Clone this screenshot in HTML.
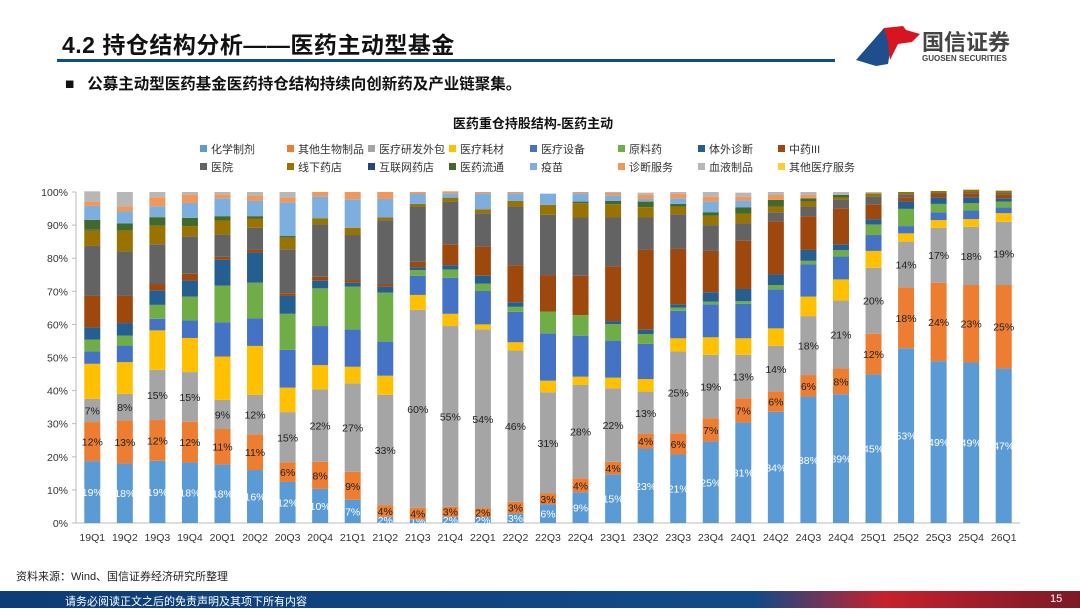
<!DOCTYPE html>
<html><head><meta charset="utf-8">
<style>
body{margin:0;width:1080px;height:608px;overflow:hidden;background:#fff;font-family:"Liberation Sans","Noto Sans CJK SC",sans-serif;position:relative}
.abs{position:absolute}
</style></head><body>
<div class="abs" style="left:62px;top:26px;font-size:23px;font-weight:bold;color:#111;white-space:nowrap;letter-spacing:0.5px">4.2 持仓结构分析——医药主动型基金</div>
<div class="abs" style="left:57px;top:59px;width:778px;height:3px;background:#0e4d8a"></div>
<svg class="abs" style="left:848px;top:20px" width="225" height="50">
<polygon points="8,40 36,8 46,8 40,44 28,46" fill="#1f4e8c"/>
<polygon points="36,8 55,6 58,10 72,14 64,22 50,24 42,40 40,22" fill="#d7141f"/>
<text x="74" y="30" font-size="22" font-weight="bold" fill="#444" font-family="Liberation Sans,Noto Sans CJK SC,sans-serif">国信证券</text>
<text x="74" y="41" font-size="8" font-weight="bold" fill="#444" font-family="Liberation Sans,sans-serif">GUOSEN SECURITIES</text>
</svg>
<div class="abs" style="left:65px;top:72px;font-size:15.5px;font-weight:bold;color:#111;white-space:nowrap">■&nbsp;&nbsp;&nbsp;公募主动型医药基金医药持仓结构持续向创新药及产业链聚集。</div>
<svg id="chart" class="abs" style="left:0;top:100px" width="1080" height="460"></svg>
<div class="abs" style="left:16px;top:568px;font-size:11px;color:#222">资料来源：Wind、国信证券经济研究所整理</div>
<div class="abs" style="left:0;top:591px;width:1080px;height:17px;background:linear-gradient(90deg,#0d3c78 0%,#124a88 70%,#c8202c 82%,#9b1c2a 92%,#7d1a26 100%)"></div>
<div class="abs" style="left:65px;top:593px;font-size:11px;color:#fff">请务必阅读正文之后的免责声明及其项下所有内容</div>
<div class="abs" style="left:1050px;top:593px;font-size:11px;color:#fff">15</div>
<script>
const categories=["19Q1","19Q2","19Q3","19Q4","20Q1","20Q2","20Q3","20Q4","21Q1","21Q2","21Q3","21Q4","22Q1","22Q2","22Q3","22Q4","23Q1","23Q2","23Q3","23Q4","24Q1","24Q2","24Q3","24Q4","25Q1","25Q2","25Q3","25Q4","26Q1"];
const seriesNames=["化学制剂","其他生物制品","医疗研发外包","医疗耗材","医疗设备","原料药","体外诊断","中药III","医院","线下药店","互联网药店","医药流通","疫苗","诊断服务","血液制品","其他医疗服务"];
const seriesColors=["#5b9bd5","#ed7d31","#a5a5a5","#ffc000","#4472c4","#70ad47","#255e91","#9e480e","#636363","#997300","#264478","#43682b","#7cafdd","#f1975a","#b7b7b7","#ffcd33"];
const s0=[18.7,18,18.8,18.3,17.7,16,12.4,10.3,7,1.9,1.1,1.9,1.9,2.9,5.7,9.3,14.7,22.5,20.7,24.6,30.4,33.6,38.2,38.9,44.9,52.8,48.9,48.5,46.7];
const s1=[11.8,13,12.3,12.3,10.7,10.8,5.9,8.2,8.5,3.5,3.5,3,2.5,3.5,3.2,4.2,3.8,4.4,6.4,7,7.3,6.1,6.5,7.8,12.3,18.4,23.7,23.4,25.2];
const s2=[7,8,15.2,15,8.8,11.9,15.2,21.9,26.7,33.3,59.8,54.6,54.1,45.7,30.6,28.2,22.2,12.8,24.7,19.2,13.1,13.8,17.8,20.5,19.9,13.8,16.6,17.6,19.1];
const s3=[10.6,9.6,11.9,10.3,13.1,14.8,7.4,7.3,5,5.8,4.5,3.7,1.5,2.5,3.5,2.5,3.2,3.8,4,5.3,5,5.3,5.9,6.4,5.1,2.5,2.3,2.3,2.6];
const s4=[3.7,5,3.5,5.3,10.3,8.3,11.4,11.8,11.3,10.3,5.8,10.9,10.1,9.2,14.3,12.4,11.2,10.6,8.3,10,10.4,11.8,9.8,6.9,4.8,2.2,2.4,2.6,1.7];
const s5=[3.6,3,4.2,7.2,11.1,10.8,10.9,11.4,12.9,14.8,1.7,2.5,2.2,1.5,6.6,6.2,5,3,1,0.8,0.8,1.3,1,1.9,3.2,5.2,2.5,2.2,1.8];
const s6=[3.7,3.8,4.4,4.9,7.8,9.1,5.4,2.3,1.2,1.8,0.9,1.3,2.4,1.4,0,0,0.9,1.3,1,2.8,3.7,3.2,3.3,1.8,1.6,2.2,1.9,1.8,1];
const s7=[9.6,8.3,1.9,2,0.9,0.8,0.8,1.2,0.8,0.8,1.6,6.3,8.8,11.2,11,11.9,16.6,24.2,16.7,12.5,14.6,16.1,10.2,10.9,4.5,1.3,1.1,1.2,1.2];
const s8=[15,13.3,12,11.3,6.8,6.7,13.3,15.8,13.6,19.3,16.7,12.9,10.1,17.7,18.2,17.6,14.7,9.7,10.5,7.8,5.3,2.7,2.9,2.5,2.3,0.9,0.3,0.4,0.4];
const s9=[4.7,6.3,5.6,3.1,4.2,2.8,3.5,1.8,2.2,0.8,0.8,1.2,1.2,1.7,3,4.3,4,3.1,2.3,2.8,2.8,1.7,1.5,0.7,1,0.7,0.6,0.7,0.7];
const s10=[0.2,0,0,0,0,0,0,0,0,0,0,0,0,0,0,0,0,0,0,0,0,0,0,0,0,0,0,0,0];
const s11=[3,2.2,2.6,2.5,1.3,0.7,0.5,0,0,0,0,0,0,0,0,0.5,1,1.7,0.8,1.1,2,2,1,0.8,0,0,0,0,0];
const s12=[4.2,3.6,3.3,4.5,5.4,4.6,10.2,6.6,8.6,5.6,3,1.3,4.8,2.3,3.4,2.5,1.6,0.8,1.7,3.2,2,0,0,0,0,0,0,0,0];
const s13=[1.3,1.5,2.7,2.5,1.2,1.5,1.5,1.4,2.2,2.1,0.6,0.6,0.4,0.4,0,0.4,0.8,1.3,1.4,1.5,1.2,1.5,1,0,0,0,0,0,0];
const s14=[3.1,4.4,1.6,0.8,0.7,1.2,1.6,0,0,0,0,0,0,0,0,0,0.3,0.6,0.5,1.4,1.2,0.9,0.9,0.9,0.4,0,0,0,0];
const s15=[0,0,0,0,0,0,0,0,0,0,0,0,0,0,0,0,0,0,0,0,0,0,0,0,0,0,0,0,0];
const seriesValues=[s0,s1,s2,s3,s4,s5,s6,s7,s8,s9,s10,s11,s12,s13,s14,s15];
const labels0=[19,18,19,18,18,16,12,10,7,2,1,2,2,3,6,9,15,23,21,25,31,34,38,39,45,53,49,49,47];
const labels1=[12,13,12,12,11,11,6,8,9,4,4,3,2,3,3,4,4,4,6,7,7,6,6,8,12,18,24,23,25];
const labels2=[7,8,15,15,9,12,15,22,27,33,60,55,54,46,31,28,22,13,25,19,13,14,18,21,20,14,17,18,19];
const yTicks=[0,10,20,30,40,50,60,70,80,90,100];

const NS="http://www.w3.org/2000/svg";
const svg=document.getElementById('chart');
const OY=100;
const plotL=76,plotR=1020,y0=523-OY,y100=192-OY;
const n=categories.length,band=(plotR-plotL)/n,bw=16;
const xC=i=>plotL+band*(i+0.5);
const yS=v=>y0-(y0-y100)*v/100;
function mk(tag,at,txt){const e=document.createElementNS(NS,tag);for(const k in at)e.setAttribute(k,at[k]);if(txt!==undefined)e.textContent=txt;svg.appendChild(e);return e;}
const FF='"Liberation Sans","Noto Sans CJK SC",sans-serif';
let t=mk('text',{x:533,y:128-OY,'font-size':13,'font-weight':'bold','text-anchor':'middle',fill:'#111','font-family':FF},'医药重仓持股结构-医药主动');


const legX=[200,287,368,449,530,618,698,778];
seriesNames.forEach((nm,k)=>{
  const x=legX[k%8],y=(k<8?149:167)-OY;
  const g=document.createElementNS(NS,'g');svg.appendChild(g);
  
  
  const r=document.createElementNS(NS,'rect');r.setAttribute('x',x);r.setAttribute('y',y-4);r.setAttribute('width',7);r.setAttribute('height',7);r.setAttribute('fill',seriesColors[k]);g.appendChild(r);
  const tx=document.createElementNS(NS,'text');tx.setAttribute('x',x+11);tx.setAttribute('y',y+4);tx.setAttribute('font-size',11);tx.setAttribute('fill','#333');tx.setAttribute('font-family',FF);tx.textContent=nm;g.appendChild(tx);
});
yTicks.forEach(v=>{
  const e=mk('text',{x:68,y:yS(v)+4,'font-size':10.5,'text-anchor':'end',fill:'#333','font-family':FF},v+'%');
  
  
  const tk=mk('line',{x1:72,x2:76,y1:yS(v),y2:yS(v),stroke:'#bbb'});
  
  
});
let ax=mk('line',{x1:76,x2:76,y1:y100,y2:y0,stroke:'#bbb'});


let bx=mk('line',{x1:76,x2:plotR,y1:y0,y2:y0,stroke:'#bbb'});


categories.forEach((c,i)=>{
  let cum=0;
  seriesValues.forEach((arr,k)=>{
    const v=arr[i];if(!v)return;
    const r=mk('rect',{x:xC(i)-bw/2,y:yS(cum+v),width:bw,height:yS(cum)-yS(cum+v),fill:seriesColors[k]});
    
    
    const mid=(yS(cum)+yS(cum+v))/2;
    const lab=k===0?labels0[i]:k===1?labels1[i]:k===2?labels2[i]:null;
    if(lab!==null){
      const e=mk('text',{x:xC(i),y:mid+4,'font-size':10.5,'text-anchor':'middle',fill:k===0?'#fff':'#222','font-family':FF},lab+'%');
      
      
    }
    cum+=v;
  });
  const e=mk('text',{x:xC(i),y:541-OY,'font-size':10.5,'text-anchor':'middle',fill:'#333','font-family':FF},c);
  
  
});
</script>
</body></html>
